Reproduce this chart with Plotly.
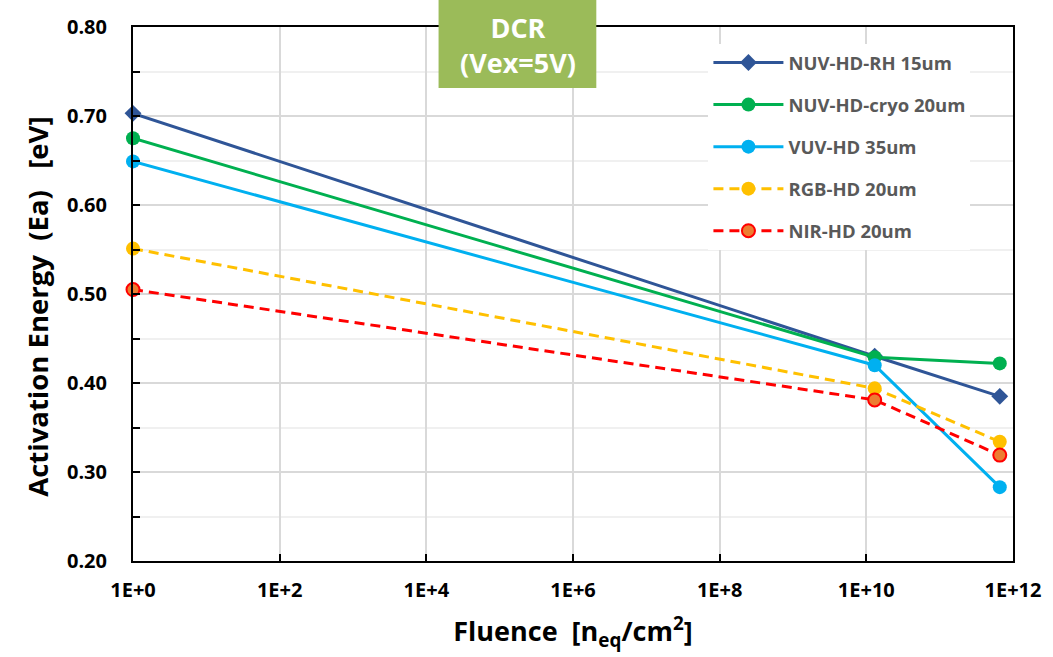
import plotly.graph_objects as go

fluence = [1, 1.3e10, 6.6e11]
series_names = ["NUV-HD-RH 15um", "NUV-HD-cryo 20um", "VUV-HD 35um", "RGB-HD 20um", "NIR-HD 20um"]
nuv_rh = [0.703, 0.430, 0.385]
nuv_cryo = [0.675, 0.429, 0.422]
vuv_hd = [0.649, 0.420, 0.283]
rgb_hd = [0.551, 0.394, 0.334]
nir_hd = [0.505, 0.381, 0.319]

x_tickvals = [1, 1e2, 1e4, 1e6, 1e8, 1e10, 1e12]
x_ticktext = ["1E+0", "1E+2", "1E+4", "1E+6", "1E+8", "1E+10", "1E+12"]
y_tickvals = [0.2, 0.3, 0.4, 0.5, 0.6, 0.7, 0.8]

FONT = "Open Sans"

styles = [
    dict(color="#2F5597", dash="solid", symbol="diamond", size=13, fill="#2F5597", lc="#2F5597"),
    dict(color="#00B050", dash="solid", symbol="circle", size=14, fill="#00B050", lc="#00B050"),
    dict(color="#00B0F0", dash="solid", symbol="circle", size=14, fill="#00B0F0", lc="#00B0F0"),
    dict(color="#FFC000", dash="10px,6px", symbol="circle", size=14, fill="#FFC000", lc="#FFC000"),
    dict(color="#FF0000", dash="10px,6px", symbol="circle", size=13, fill="#ED7D31", lc="#FF0000"),
]
data = [nuv_rh, nuv_cryo, vuv_hd, rgb_hd, nir_hd]

fig = go.Figure()
for i, (name, ys, st) in enumerate(zip(series_names, data, styles)):
    fig.add_trace(go.Scatter(
        x=fluence, y=ys, name=name, mode="lines+markers",
        line=dict(color=st["color"], width=3, dash=st["dash"]),
        marker=dict(symbol=st["symbol"], size=st["size"], color=st["fill"],
                    line=dict(color=st["lc"], width=2 if i == 4 else 0)),
        cliponaxis=False, legendgroup=f"g{i}",
    ))

fig.update_layout(
    width=1053, height=657,
    margin=dict(l=133, r=33, t=27, b=96),
    paper_bgcolor="white", plot_bgcolor="white",
    font=dict(family=FONT, color="black"),
    showlegend=True,
    legend=dict(x=(713 - 133) / 887, y=(561 - 44) / 534, xanchor="left", yanchor="top",
                bgcolor="white", borderwidth=0, tracegroupgap=15,
                font=dict(family=FONT, size=18.5, color="#595959", weight="bold"),
                itemwidth=70),
    xaxis=dict(type="log", range=[0, 12], tickvals=x_tickvals, ticktext=x_ticktext,
               showgrid=True, gridcolor="#D9D9D9", gridwidth=2,
               showline=True, linecolor="black", linewidth=2, mirror=True,
               ticks="inside", ticklen=7, tickwidth=2, tickcolor="black",
               tickfont=dict(family=FONT, size=20, color="black", weight="bold"),
               ticklabelstandoff=10, zeroline=False,
               title=dict(text="Fluence  [n<sub>eq</sub>/cm<sup>2</sup>]",
                          font=dict(family=FONT, size=27, color="black", weight="bold"),
                          standoff=20)),
    yaxis=dict(range=[0.2, 0.8], tickvals=y_tickvals, tickformat=".2f",
               showgrid=True, gridcolor="#D9D9D9", gridwidth=2,
               showline=True, linecolor="black", linewidth=2, mirror=True,
               ticks="inside", ticklen=7, tickwidth=2, tickcolor="black",
               tickfont=dict(family=FONT, size=20, color="black", weight="bold"),
               ticklabelstandoff=20, zeroline=False,
               minor=dict(dtick=0.05, showgrid=True, gridcolor="#F0F0F0", gridwidth=2,
                          ticks="inside", ticklen=7, tickwidth=2, tickcolor="black")),
)

# y-axis title placed as rotated text (slightly below the plot's centre, as in the reference)
fig.add_annotation(xref="paper", yref="paper", x=(36 - 133) / 887, y=(561 - 307) / 534,
                   xanchor="center", yanchor="middle", textangle=-90,
                   text="Activation Energy  (Ea)   [eV]", showarrow=False,
                   font=dict(family=FONT, size=27.5, color="black", weight="bold"))

fig.add_shape(type="rect", xref="paper", yref="paper",
              x0=(441 - 133) / 887, x1=(600 - 133) / 887,
              y0=(561 - 88) / 534, y1=(561 - 0) / 534,
              fillcolor="#9BBB59", line=dict(width=0), layer="above")
fig.add_annotation(xref="paper", yref="paper", x=(521 - 133) / 887, y=(561 - 45) / 534,
                   xanchor="center", yanchor="middle",
                   text="DCR<br>(Vex=5V)", showarrow=False,
                   font=dict(family=FONT, size=27, color="white", weight="bold"),
                   align="center")

fig.write_html("out.html")
